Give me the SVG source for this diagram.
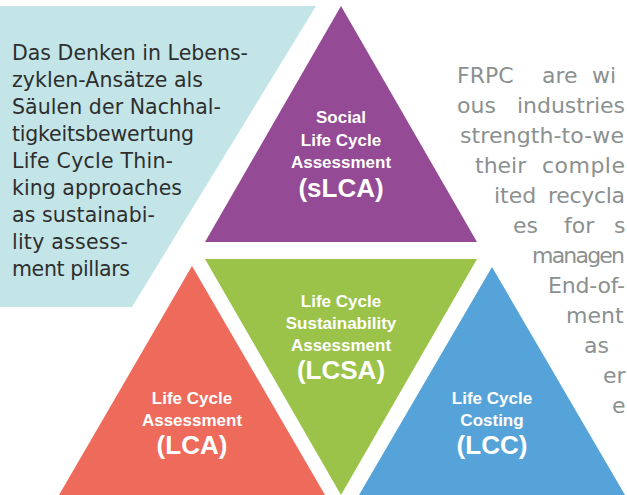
<svg xmlns="http://www.w3.org/2000/svg" width="627" height="495" viewBox="0 0 627 495">
<style>
.lt{font-family:"DejaVu Sans","Liberation Sans",sans-serif;font-size:20.5px;fill:#2e2e2e}
.rt{font-family:"DejaVu Sans","Liberation Sans",sans-serif;font-size:22px;fill:#8b9090}
.lb{font-family:"Liberation Sans",Arial,sans-serif;font-size:17px;font-weight:bold;fill:#ffffff;text-anchor:middle}
.ab{font-family:"Liberation Sans",Arial,sans-serif;font-size:26px;font-weight:bold;fill:#ffffff;text-anchor:middle}
</style>
<rect width="627" height="495" fill="#ffffff"/>
<g id="intro">
<polygon points="0,6 316,6 132,307 0,307" fill="#c3e5e8"/>
<text class="lt" x="12" y="60" textLength="236">Das Denken in Lebens-</text>
<text class="lt" x="12" y="87" textLength="191">zyklen-Ansätze als</text>
<text class="lt" x="12" y="114" textLength="209">Säulen der Nachhal-</text>
<text class="lt" x="12" y="141" textLength="182">tigkeitsbewertung</text>
<text class="lt" x="12" y="168" textLength="161">Life Cycle Thin-</text>
<text class="lt" x="12" y="195" textLength="170">king approaches</text>
<text class="lt" x="12" y="222" textLength="143">as sustainabi-</text>
<text class="lt" x="12" y="249" textLength="116">lity assess-</text>
<text class="lt" x="12" y="276" textLength="118">ment pillars</text>
</g>
<g id="slca">
<polygon points="341,6 477,242 205,242" fill="#944a94"/>
<text class="lb" x="341" y="123">Social</text>
<text class="lb" x="341" y="146">Life Cycle</text>
<text class="lb" x="341" y="168">Assessment</text>
<text class="ab" x="341" y="197">(sLCA)</text>
</g>
<g id="lcsa">
<polygon points="205,259 477,259 341,495" fill="#9bc34a"/>
<text class="lb" x="341" y="307">Life Cycle</text>
<text class="lb" x="341" y="329">Sustainability</text>
<text class="lb" x="341" y="351">Assessment</text>
<text class="ab" x="341" y="379">(LCSA)</text>
</g>
<g id="lca">
<polygon points="192,266 325,495 59,495" fill="#ee6a5b"/>
<text class="lb" x="192" y="404">Life Cycle</text>
<text class="lb" x="192" y="426">Assessment</text>
<text class="ab" x="192" y="454">(LCA)</text>
</g>
<g id="lcc">
<polygon points="492,267 625,495 359,495" fill="#56a3d9"/>
<text class="lb" x="492" y="404">Life Cycle</text>
<text class="lb" x="492" y="426">Costing</text>
<text class="ab" x="492" y="454">(LCC)</text>
</g>
<g id="connectors"/>
<g id="body-text">
<text class="rt" x="457" y="83">FRPC</text>
<text class="rt" x="542" y="83">are</text>
<text class="rt" x="592" y="83">wi</text>
<text class="rt" x="457" y="113">ous</text>
<text class="rt" x="517" y="113" textLength="108">industries</text>
<text class="rt" x="460" y="143" textLength="164">strength-to-we</text>
<text class="rt" x="475" y="173">their</text>
<text class="rt" x="542" y="173" textLength="83">comple</text>
<text class="rt" x="494" y="203">ited</text>
<text class="rt" x="548" y="203" textLength="77">recycla</text>
<text class="rt" x="513" y="233">es</text>
<text class="rt" x="564" y="233">for</text>
<text class="rt" x="614" y="233">s</text>
<text class="rt" x="532" y="263" textLength="93">managen</text>
<text class="rt" x="548" y="293" textLength="77">End-of-</text>
<text class="rt" x="566" y="323">ment</text>
<text class="rt" x="584" y="353">as</text>
<text class="rt" x="603" y="383">er</text>
<text class="rt" x="612" y="413">e</text>
</g>
</svg>
